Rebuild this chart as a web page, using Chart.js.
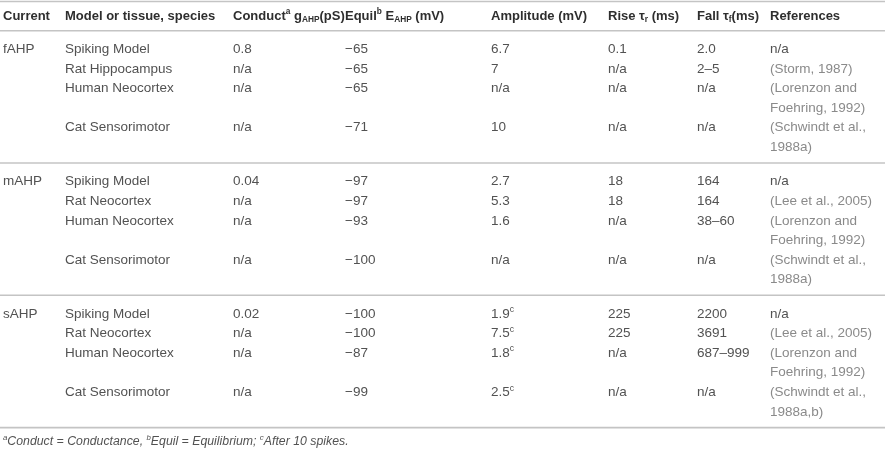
<!DOCTYPE html>
<html>
<head>
<meta charset="utf-8">
<script src="https://cdn.jsdelivr.net/npm/chart.js@4.4.1/dist/chart.umd.min.js"></script>
<style>
  html, body { margin: 0; padding: 0; background: #fff; }
  #wrap { width: 885px; height: 449px; position: relative; }
</style>
</head>
<body>
<div id="wrap"><canvas id="tableChart"></canvas></div>
<script>
// table content, one array per column (rows grouped by current)
const headers = ['Current', 'Model or tissue, species', 'Conduct^{a} g_{AHP}(pS)', 'Equil^{b} E_{AHP} (mV)',
                 'Amplitude (mV)', 'Rise τ_{r} (ms)', 'Fall τ_{f}(ms)', 'References'];
const currents = ['fAHP', 'mAHP', 'sAHP'];
const models = [
    ['Spiking Model', 'Rat Hippocampus', 'Human Neocortex', 'Cat Sensorimotor'],
    ['Spiking Model', 'Rat Neocortex', 'Human Neocortex', 'Cat Sensorimotor'],
    ['Spiking Model', 'Rat Neocortex', 'Human Neocortex', 'Cat Sensorimotor']
];
const conductance = [
    ['0.8', 'n/a', 'n/a', 'n/a'],
    ['0.04', 'n/a', 'n/a', 'n/a'],
    ['0.02', 'n/a', 'n/a', 'n/a']
];
const equilibrium = [
    ['−65', '−65', '−65', '−71'],
    ['−97', '−97', '−93', '−100'],
    ['−100', '−100', '−87', '−99']
];
const amplitude = [
    ['6.7', '7', 'n/a', '10'],
    ['2.7', '5.3', '1.6', 'n/a'],
    ['1.9^{c}', '7.5^{c}', '1.8^{c}', '2.5^{c}']
];
const riseTime = [
    ['0.1', 'n/a', 'n/a', 'n/a'],
    ['18', '18', 'n/a', 'n/a'],
    ['225', '225', 'n/a', 'n/a']
];
const fallTime = [
    ['2.0', '2–5', 'n/a', 'n/a'],
    ['164', '164', '38–60', 'n/a'],
    ['2200', '3691', '687–999', 'n/a']
];
const references = [
    ['n/a', '(Storm, 1987)', '(Lorenzon and|Foehring, 1992)', '(Schwindt et al.,|1988a)'],
    ['n/a', '(Lee et al., 2005)', '(Lorenzon and|Foehring, 1992)', '(Schwindt et al.,|1988a)'],
    ['n/a', '(Lee et al., 2005)', '(Lorenzon and|Foehring, 1992)', '(Schwindt et al.,|1988a,b)']
];
const footnote = '^{a}Conduct = Conductance, ^{b}Equil = Equilibrium; ^{c}After 10 spikes.';

// layout (x in pixels, y in text-line units)
const colX = [3, 65, 233, 345, 491, 608, 697, 770];
const LINE_PX = 19.6;
const HEADER_TOP_PX = 16;
const firstRowLine = 1.7;
const groupStep = 6.75;
const ruleOffset = -0.95;

const FONT = '"Liberation Sans", Arial, Helvetica, sans-serif';
const headColor = '#2e2e2e';
const cellColor = '#525252';
const refColor = '#8a8a8a';
const ruleColor = '#c4c4c4';
const HEAD_SIZE = 13;
const CELL_SIZE = 13.5;
const NOTE_SIZE = 12.3;

function groupStart(g) { return firstRowLine + g * groupStep; }

// line offset of each row inside a group (references may wrap)
function rowOffsets(g) {
    const out = [];
    let k = 0;
    references[g].forEach(r => { out.push(k); k += r.split('|').length; });
    return out;
}

const ruleYs = [-0.74];
currents.forEach((c, g) => ruleYs.push(groupStart(g) + ruleOffset));
ruleYs.push(groupStart(currents.length) + ruleOffset);
const footnoteY = groupStart(currents.length) + ruleOffset + 0.72;

// parse "a^{b}c_{d}" into segments
function parseRich(str) {
    const segs = [];
    const re = /(\^|_)\{([^}]*)\}/g;
    let last = 0, m;
    while ((m = re.exec(str)) !== null) {
        if (m.index > last) segs.push({ t: str.slice(last, m.index), mode: '' });
        segs.push({ t: m[2], mode: m[1] === '^' ? 'sup' : 'sub' });
        last = re.lastIndex;
    }
    if (last < str.length) segs.push({ t: str.slice(last), mode: '' });
    return segs;
}

function drawRich(ctx, str, x, y, size, weight, style, color) {
    let cx = x;
    ctx.fillStyle = color;
    ctx.textBaseline = 'middle';
    ctx.textAlign = 'left';
    parseRich(str).forEach(s => {
        let fs = size, dy = 0;
        if (s.mode === 'sup') { fs = size * 0.64; dy = -size * 0.3; }
        if (s.mode === 'sub') { fs = size * 0.64; dy = size * 0.25; }
        ctx.font = `${style} ${weight} ${fs}px ${FONT}`;
        ctx.fillText(s.t, cx, y + dy);
        cx += ctx.measureText(s.t).width;
    });
}

const tablePlugin = {
    id: 'tableText',
    afterDatasetsDraw(chart) {
        const { ctx, scales: { x, y } } = chart;
        ctx.save();
        headers.forEach((h, i) => {
            drawRich(ctx, h, x.getPixelForValue(colX[i]), y.getPixelForValue(0), HEAD_SIZE, 'bold', 'normal', headColor);
        });
        currents.forEach((cur, g) => {
            const base = groupStart(g);
            const offs = rowOffsets(g);
            drawRich(ctx, cur, x.getPixelForValue(colX[0]), y.getPixelForValue(base), CELL_SIZE, 'normal', 'normal', cellColor);
            const cols = [models[g], conductance[g], equilibrium[g], amplitude[g], riseTime[g], fallTime[g]];
            offs.forEach((k, r) => {
                const py = y.getPixelForValue(base + k);
                cols.forEach((col, ci) => {
                    drawRich(ctx, col[r], x.getPixelForValue(colX[ci + 1]), py, CELL_SIZE, 'normal', 'normal', cellColor);
                });
                const ref = references[g][r];
                ref.split('|').forEach((line, li) => {
                    drawRich(ctx, line, x.getPixelForValue(colX[7]), y.getPixelForValue(base + k + li), CELL_SIZE,
                        'normal', 'normal', ref === 'n/a' ? cellColor : refColor);
                });
            });
        });
        drawRich(ctx, footnote, x.getPixelForValue(colX[0]), y.getPixelForValue(footnoteY), NOTE_SIZE, 'normal', 'italic', cellColor);
        ctx.restore();
    }
};

const ruleDatasets = ruleYs.map(v => ({
    type: 'line',
    data: [{ x: 0, y: v }, { x: 885, y: v }],
    borderColor: ruleColor,
    borderWidth: 1.6,
    pointRadius: 0,
    fill: false,
    tension: 0
}));

const yMin = -HEADER_TOP_PX / LINE_PX;
const yMax = yMin + 449 / LINE_PX;

new Chart(document.getElementById('tableChart').getContext('2d'), {
    type: 'scatter',
    data: { datasets: ruleDatasets },
    plugins: [tablePlugin],
    options: {
        responsive: true,
        maintainAspectRatio: false,
        animation: false,
        layout: { padding: 0 },
        plugins: { legend: { display: false }, tooltip: { enabled: false } },
        scales: {
            x: { type: 'linear', min: 0, max: 885, display: false },
            y: { type: 'linear', min: yMin, max: yMax, reverse: true, display: false }
        }
    }
});
</script>
</body>
</html>
